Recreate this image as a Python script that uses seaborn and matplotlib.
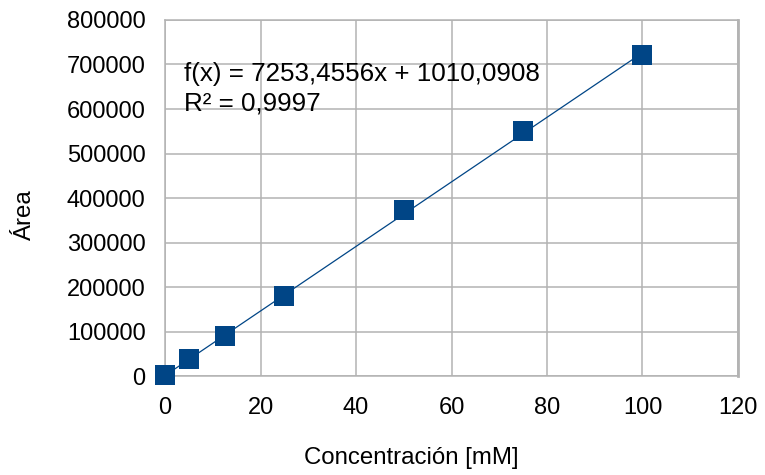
import matplotlib
matplotlib.use("Agg")
import matplotlib.pyplot as plt
import seaborn as sns
import numpy as np
import pandas as pd

# Calibration data
concentracion = [0, 5, 12.5, 25, 50, 75, 100]
area = [1500, 38000, 90500, 180000, 373500, 549500, 722000]

# Linear trendline coefficients
pendiente = 7253.4556
intercepto = 1010.0908
r2 = 0.9997

x_ticks = [0, 20, 40, 60, 80, 100, 120]
y_ticks = [0, 100000, 200000, 300000, 400000, 500000, 600000, 700000, 800000]

sns.set_style("white")
plt.rcParams["font.family"] = ["Liberation Sans", "DejaVu Sans"]

df = pd.DataFrame({"Concentración [mM]": concentracion, "Área": area})

fig = plt.figure(figsize=(7.65, 4.75), dpi=100)
ax = fig.add_axes([0.2157, 0.2084, 0.749, 0.7495])

color = "#004586"
grid = "#b3b3b3"

# Trendline
xl = np.array([0, 100])
ax.plot(xl, pendiente * xl + intercepto, color=color, lw=0.9, zorder=2)

sns.scatterplot(data=df, x="Concentración [mM]", y="Área", marker="s", s=200,
                color=color, edgecolor=color, linewidth=0, ax=ax, zorder=3)
for coll in ax.collections:
    coll.set_clip_on(False)

ax.set_xlim(0, 120)
ax.set_ylim(0, 800000)
ax.set_xticks(x_ticks)
ax.set_yticks(y_ticks)
ax.set_xticklabels([str(v) for v in x_ticks])
ax.set_yticklabels([str(v) for v in y_ticks])
ax.grid(True, color=grid, lw=1.1)
ax.set_axisbelow(True)
for s in ax.spines.values():
    s.set_color(grid)
    s.set_linewidth(1.1)
ax.spines["right"].set_linewidth(2)
ax.tick_params(axis="both", which="both", length=8, width=1.1, color=grid,
               direction="out", labelsize=17, labelcolor="black")
ax.tick_params(axis="y", pad=6)
ax.tick_params(axis="x", pad=7)

ax.set_xlabel("Concentración [mM]", fontsize=17.3, color="black")
ax.set_ylabel("Área", fontsize=17.3, color="black")
ax.xaxis.set_label_coords(0.429, -0.23)
ax.yaxis.set_label_coords(-0.244, 0.452)
ax.xaxis.label.set_va("center")
ax.yaxis.label.set_va("center")

ax.text(3.9, 706000, "f(x) = 7253,4556x + 1010,0908\nR² = 0,9997",
        fontsize=18.7, va="top", ha="left", linespacing=1.3, color="black")

fig.savefig("out.png", dpi=100)
